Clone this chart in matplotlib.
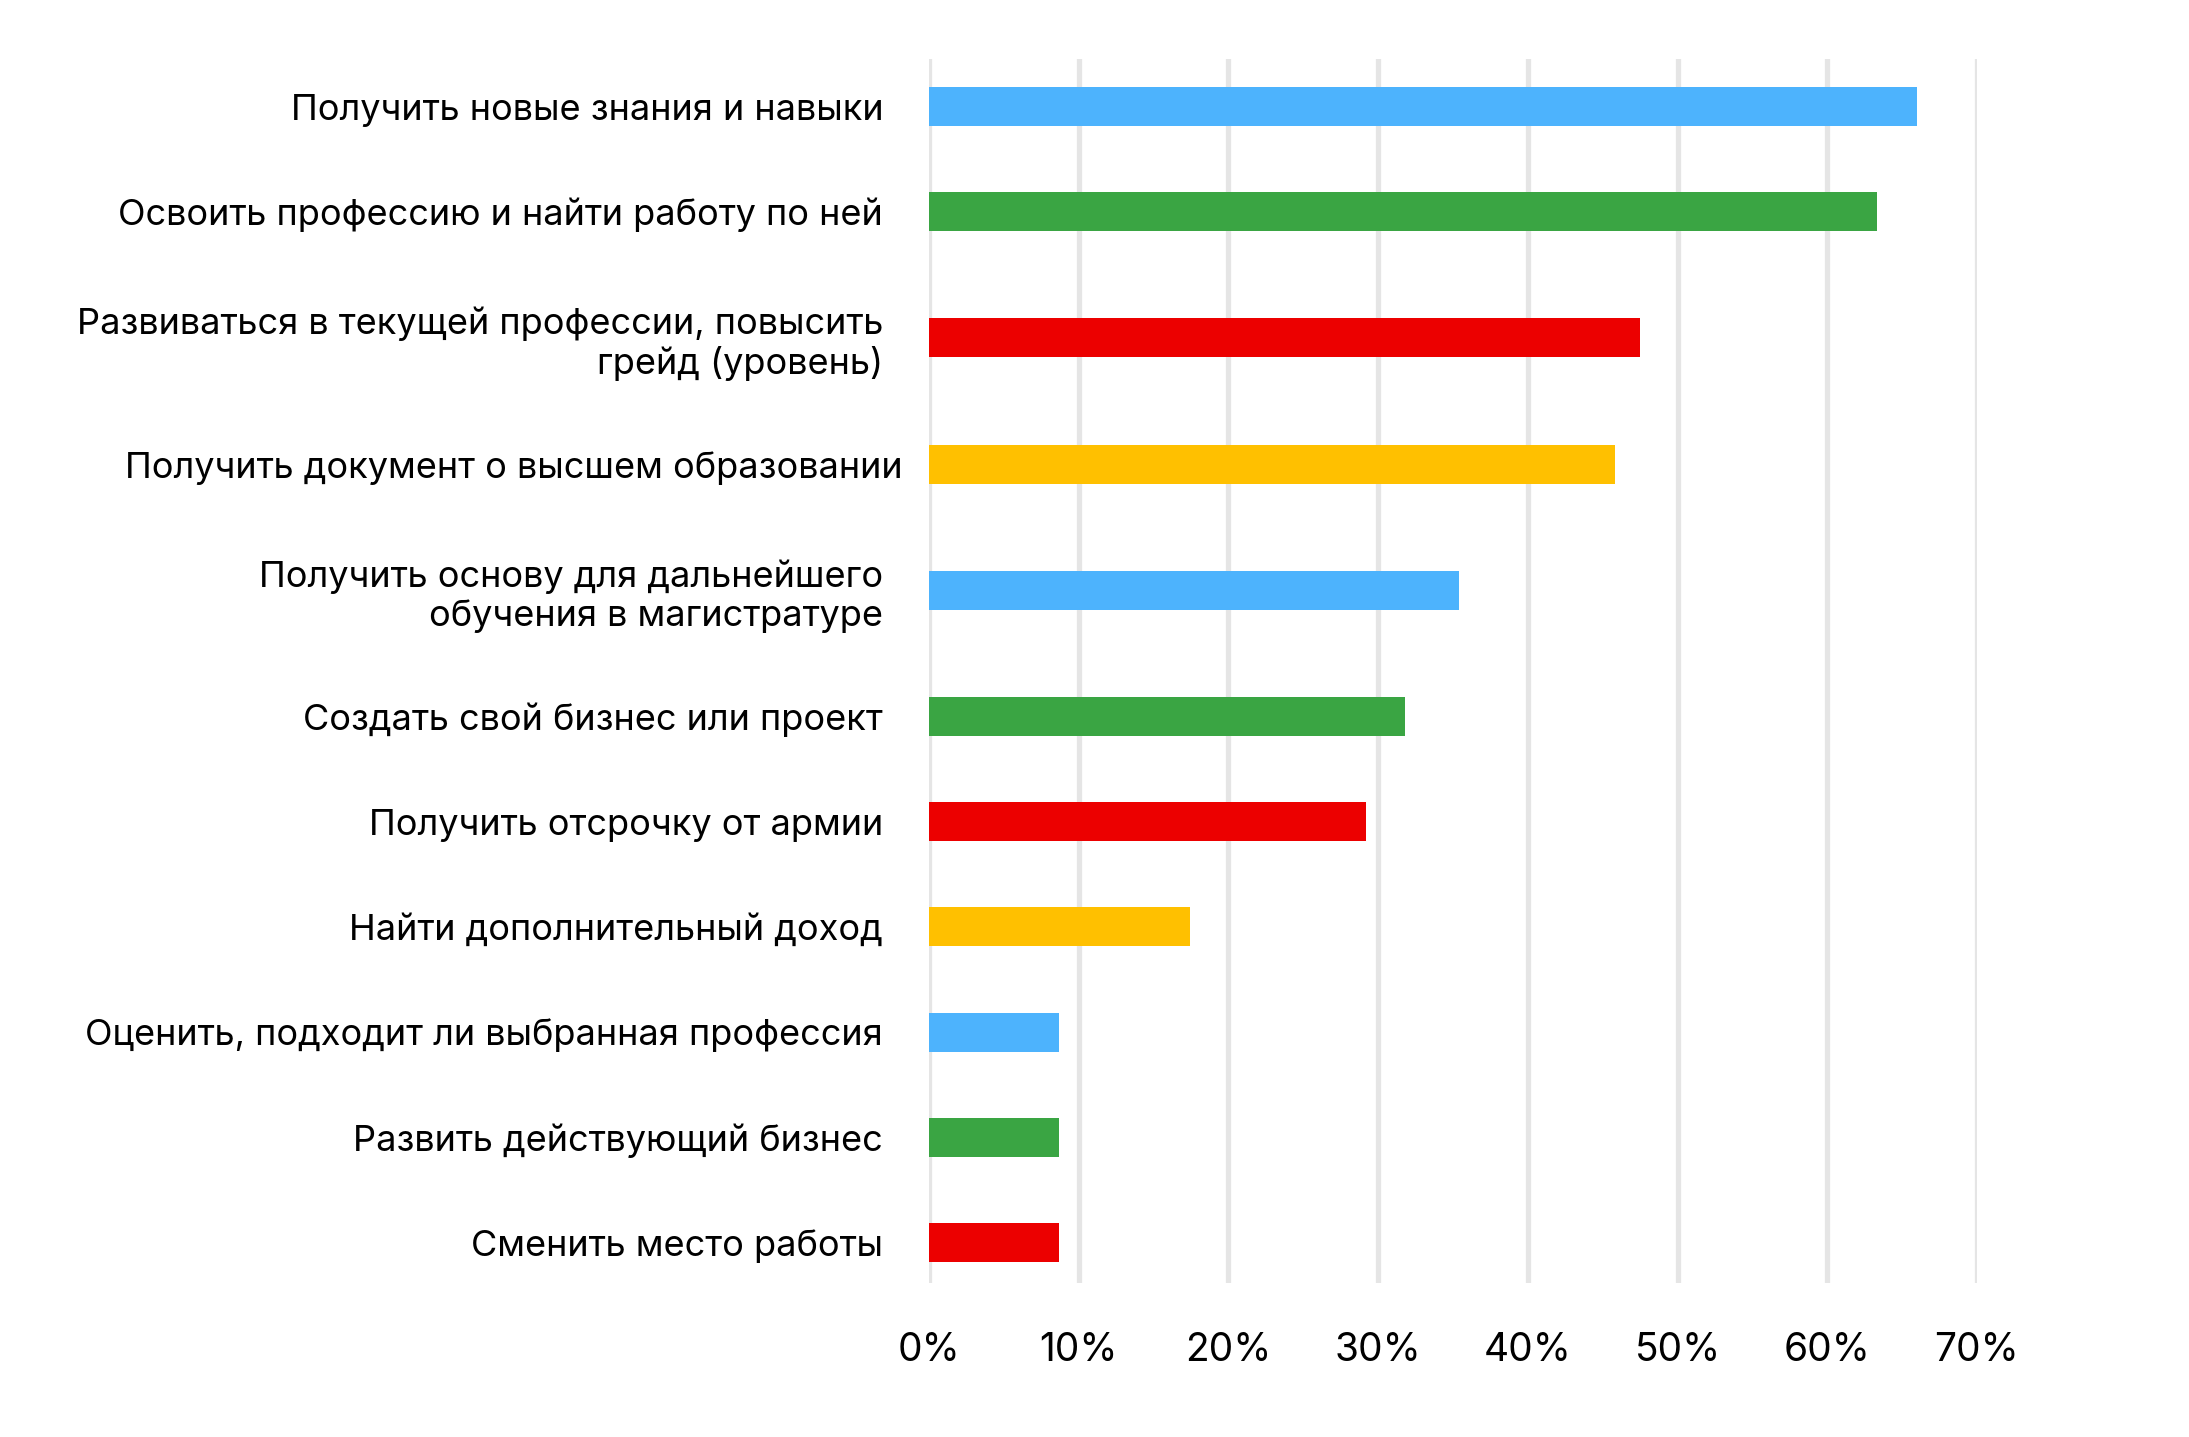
import matplotlib
matplotlib.use("Agg")
import matplotlib.pyplot as plt
import matplotlib.transforms as mtransforms
import numpy as np

# Data
categories = [
    "Получить новые знания и навыки",
    "Освоить профессию и найти работу по ней",
    "Развиваться в текущей профессии, повысить\nгрейд (уровень)",
    "Получить документ о высшем образовании",
    "Получить основу для дальнейшего\nобучения в магистратуре",
    "Создать свой бизнес или проект",
    "Получить отсрочку от армии",
    "Найти дополнительный доход",
    "Оценить, подходит ли выбранная профессия",
    "Развить действующий бизнес",
    "Сменить место работы",
]
values = [66.0, 63.3, 47.5, 45.8, 35.4, 31.8, 29.2, 17.4, 8.7, 8.7, 8.7]
colors = ["#4DB3FD", "#3AA543", "#EC0000", "#FFC000"]
xticks = [0, 10, 20, 30, 40, 50, 60, 70]

plt.rcParams["font.family"] = ["Inter", "DejaVu Sans"]

# row positions: two-line labels get a bit more room
lines = [c.count("\n") + 1 for c in categories]
gaps = [105 + 21 * (lines[i] - 1 + lines[i + 1] - 1) for i in range(len(lines) - 1)]
ypos = np.concatenate([[0], np.cumsum(gaps)])

fig = plt.figure(figsize=(21.89, 14.37), dpi=100)
ax = fig.add_axes([929 / 2189, 1 - 1283 / 1437, (1977 - 929) / 2189, (1283 - 59) / 1437])

bar_colors = [colors[i % 4] for i in range(len(values))]
ax.barh(ypos, values, height=39, color=bar_colors, zorder=3)

ax.set_xlim(0, 70)
ax.set_ylim(ypos[-1] + 40.5, -47.5)
ax.set_xticks(xticks)
ax.set_xticklabels([f"{t}%" for t in xticks])
ax.set_yticks(ypos)
ax.set_yticklabels(categories, ha="right", multialignment="right", linespacing=1.18)

ax.grid(axis="x", color="#E5E5E5", linewidth=3.8, zorder=0)
for s in ax.spines.values():
    s.set_visible(False)
ax.tick_params(axis="x", length=0, pad=35, labelsize=28, colors="black")
ax.tick_params(axis="y", length=0, pad=33, labelsize=26, colors="black")

# the long single-line label runs a bit past the others, as in the original
lbl = ax.get_yticklabels()[3]
lbl.set_transform(lbl.get_transform() + mtransforms.ScaledTranslation(0.19, 0, fig.dpi_scale_trans))

fig.savefig("out.png", dpi=100, facecolor="white")
